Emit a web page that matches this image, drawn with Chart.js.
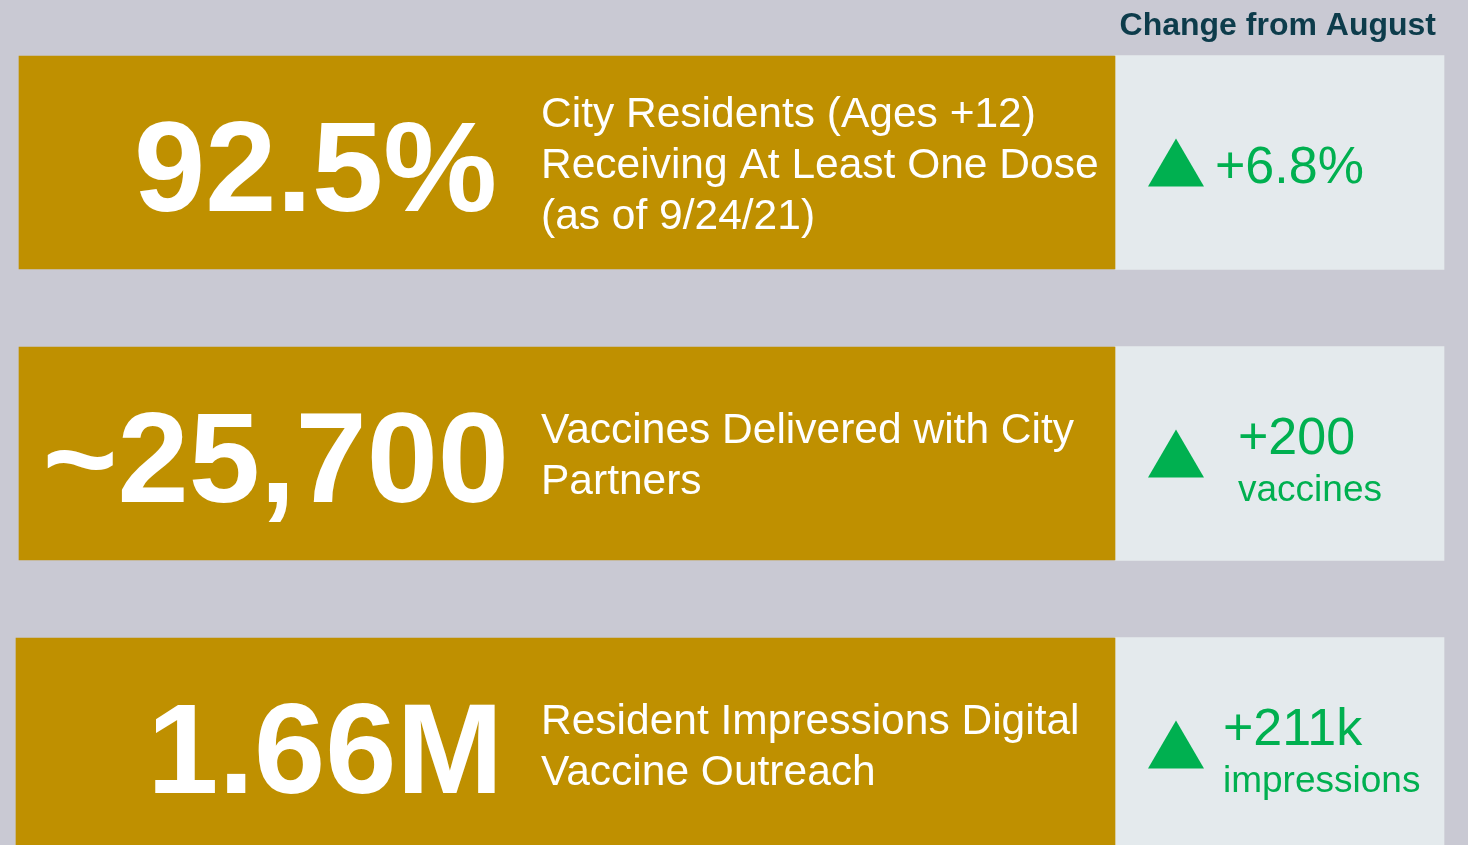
<!DOCTYPE html>
<html>
<head>
<meta charset="utf-8">
<script src="https://cdn.jsdelivr.net/npm/chart.js"></script>
<style>
  html, body { margin: 0; padding: 0; overflow: hidden; background: #c9c9d3; }
  canvas { display: block; }
</style>
</head>
<body>
<canvas id="kpi" width="1468" height="890"></canvas>
<script>
// data
const metrics = ['Vaccination rate', 'Vaccines delivered', 'Digital impressions']
const metricValues = ['92.5%', '~25,700', '1.66M']
const metricLabels = [
  ['City Residents (Ages +12)', 'Receiving At Least One Dose', '(as of 9/24/21)'],
  ['Vaccines Delivered with City', 'Partners'],
  ['Resident Impressions Digital', 'Vaccine Outreach']
]
const changeTitle = 'Change from August'
const changeValues = ['+6.8%', '+200', '+211k']
const changeUnits = ['', 'vaccines', 'impressions']

// layout (page units on the x scale)
const pageWidth = 1468
const boxLeft = [19, 19, 16]
const boxSplit = 1115
const panelRight = 1444
const numberRight = [497, 509, 503]
const changeLeft = [1215, 1238, 1223]

const font = '"Liberation Sans", Arial, sans-serif'
const gold = '#bf9000'
const panel = '#e4eaed'
const green = '#00b050'

const textPlugin = {
  id: 'kpiText',
  afterDatasetsDraw(chart) {
    const ctx = chart.ctx
    const x = chart.scales.x
    const y = chart.scales.y
    ctx.save()
    ctx.textBaseline = 'alphabetic'

    // header above the change panels
    ctx.font = 'bold 32px ' + font
    ctx.fillStyle = '#0d3c4b'
    ctx.textAlign = 'right'
    ctx.fillText(changeTitle, x.getPixelForValue(1436), 35)

    metrics.forEach((m, i) => {
      const cy = y.getPixelForValue(i)

      // big number
      ctx.font = 'bold 128px ' + font
      ctx.fillStyle = '#ffffff'
      ctx.textAlign = 'right'
      ctx.fillText(metricValues[i], x.getPixelForValue(numberRight[i]), cy + 48)

      // description
      ctx.font = '42.5px ' + font
      ctx.textAlign = 'left'
      const lines = metricLabels[i]
      const lh = 51
      let by = cy - (lines.length - 1) * lh / 2 + 15
      lines.forEach(l => {
        ctx.fillText(l, x.getPixelForValue(541), by)
        by += lh
      })

      // up arrow
      const tx = x.getPixelForValue(1176)
      ctx.fillStyle = green
      ctx.beginPath()
      ctx.moveTo(tx, cy - 24)
      ctx.lineTo(tx + 28, cy + 24)
      ctx.lineTo(tx - 28, cy + 24)
      ctx.closePath()
      ctx.fill()

      // change text
      const cx = x.getPixelForValue(changeLeft[i])
      ctx.font = '52px ' + font
      if (changeUnits[i]) {
        ctx.fillText(changeValues[i], cx, cy)
        ctx.font = '37px ' + font
        ctx.fillText(changeUnits[i], cx, cy + 47)
      } else {
        ctx.fillText(changeValues[i], cx, cy + 20)
      }
    })
    ctx.restore()
  }
}

new Chart(document.getElementById('kpi'), {
  type: 'bar',
  data: {
    labels: metrics,
    datasets: [
      {
        label: 'metric',
        data: metrics.map((m, i) => [boxLeft[i], boxSplit]),
        backgroundColor: gold,
        barThickness: 213,
        grouped: false
      },
      {
        label: 'change',
        data: metrics.map(() => [boxSplit, panelRight]),
        backgroundColor: panel,
        barThickness: 214,
        grouped: false
      }
    ]
  },
  options: {
    indexAxis: 'y',
    responsive: false,
    animation: false,
    layout: { padding: { top: 17, left: 0, right: 0, bottom: 0 } },
    plugins: {
      legend: { display: false },
      tooltip: { enabled: false }
    },
    scales: {
      x: { type: 'linear', min: 0, max: pageWidth, display: false },
      y: { display: false }
    }
  },
  plugins: [textPlugin]
})
</script>
</body>
</html>
